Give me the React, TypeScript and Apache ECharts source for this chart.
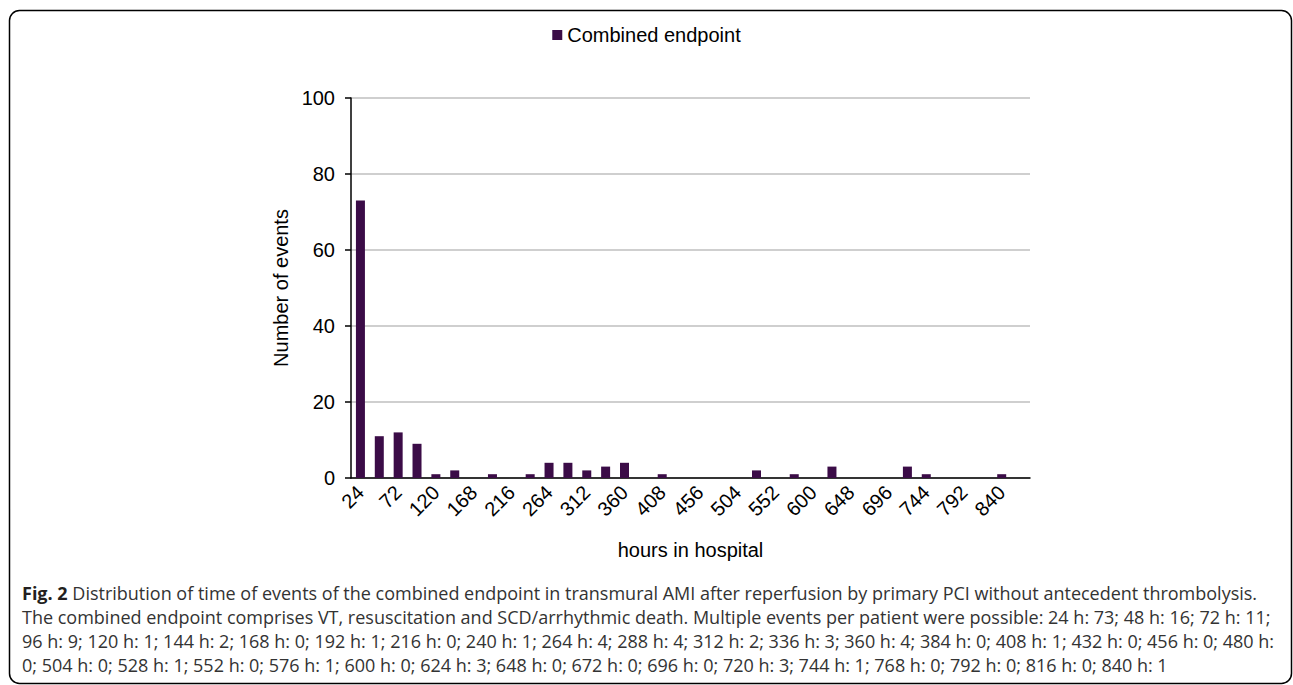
import React, { useEffect, useRef } from "react";
import * as echarts from "echarts";

const categories: string[] = [
  "24", "48", "72", "96", "120", "144", "168", "192", "216", "240", "264", "288",
  "312", "336", "360", "384", "408", "432", "456", "480", "504", "528", "552", "576",
  "600", "624", "648", "672", "696", "720", "744", "768", "792", "816", "840", "864",
];
const combinedEndpoint: number[] = [
  73, 11, 12, 9, 1, 2, 0, 1, 0, 1, 4, 4,
  2, 3, 4, 0, 1, 0, 0, 0, 0, 2, 0, 1,
  0, 3, 0, 0, 0, 3, 1, 0, 0, 0, 1, 0,
];
const seriesName = "Combined endpoint";
const xAxisTitle = "hours in hospital";
const yAxisTitle = "Number of events";
const captionLines: string[] = [
  "Distribution of time of events of the combined endpoint in transmural AMI after reperfusion by primary PCI without antecedent thrombolysis.",
  "The combined endpoint comprises VT, resuscitation and SCD/arrhythmic death. Multiple events per patient were possible: 24 h: 73; 48 h: 16; 72 h: 11;",
  "96 h: 9; 120 h: 1; 144 h: 2; 168 h: 0; 192 h: 1; 216 h: 0; 240 h: 1; 264 h: 4; 288 h: 4; 312 h: 2; 336 h: 3; 360 h: 4; 384 h: 0; 408 h: 1; 432 h: 0; 456 h: 0; 480 h:",
  "0; 504 h: 0; 528 h: 1; 552 h: 0; 576 h: 1; 600 h: 0; 624 h: 3; 648 h: 0; 672 h: 0; 696 h: 0; 720 h: 3; 744 h: 1; 768 h: 0; 792 h: 0; 816 h: 0; 840 h: 1",
];
const captionLabel = "Fig. 2";

const BAR_COLOR = "#3b0c47";
const SANS = "'Liberation Sans', Arial, Helvetica, sans-serif";
const CAPTION_FONT = "'Open Sans', 'Noto Sans', sans-serif";
const CAPTION_SIZE = 18;

export default function App() {
  const ref = useRef<HTMLDivElement>(null);
  useEffect(() => {
    if (!ref.current) return;
    const chart = echarts.init(ref.current, null, { renderer: "svg" });
    const capStyle = {
      fontFamily: CAPTION_FONT,
      fontSize: CAPTION_SIZE,
      fill: "#333333",
    };
    chart.setOption({
      animation: false,
      backgroundColor: "#ffffff",
      legend: {
        data: [seriesName],
        top: 20,
        left: "center",
        icon: "rect",
        itemWidth: 10,
        itemHeight: 10,
        itemGap: 5,
        textStyle: { fontFamily: SANS, fontSize: 20, color: "#000" },
      },
      grid: { left: 351, right: 263, top: 98, bottom: 207 },
      xAxis: {
        type: "category",
        data: categories,
        name: xAxisTitle,
        nameLocation: "middle",
        nameGap: 62,
        nameTextStyle: { fontFamily: SANS, fontSize: 20, color: "#000" },
        axisLine: { lineStyle: { color: "#000", width: 1.5 } },
        axisTick: { interval: 0, length: 5, lineStyle: { color: "#000", width: 1.5 } },
        axisLabel: {
          interval: 1,
          rotate: 45,
          margin: 11,
          fontFamily: SANS,
          fontSize: 20,
          color: "#000",
        },
      },
      yAxis: {
        type: "value",
        min: 0,
        max: 100,
        interval: 20,
        name: yAxisTitle,
        nameLocation: "middle",
        nameGap: 58,
        nameTextStyle: { fontFamily: SANS, fontSize: 20, color: "#000" },
        axisLine: { show: true, lineStyle: { color: "#000", width: 1.5 } },
        axisTick: { show: true, length: 6, lineStyle: { color: "#000", width: 1.5 } },
        axisLabel: { margin: 16, fontFamily: SANS, fontSize: 20, color: "#000" },
        splitLine: { lineStyle: { color: "#bfbfbf", width: 1.5 } },
      },
      series: [
        {
          name: seriesName,
          type: "bar",
          data: combinedEndpoint,
          barWidth: 9,
          itemStyle: { color: BAR_COLOR },
        },
      ],
      graphic: [
        {
          type: "rect",
          shape: { x: 9.5, y: 10.5, width: 1282, height: 673, r: 10 },
          style: { fill: "none", stroke: "#000", lineWidth: 1.5 },
          silent: true,
        },
        {
          type: "text",
          x: 22,
          y: 593,
          style: {
            ...capStyle,
            verticalAlign: "middle",
            text: "{b|" + captionLabel + "} " + captionLines[0],
            rich: {
              b: { fontFamily: CAPTION_FONT, fontSize: CAPTION_SIZE, fontWeight: "bold", fill: "#231f20" },
            },
          },
        },
        ...captionLines.slice(1).map((line, i) => ({
          type: "text",
          x: 22,
          y: 617 + i * 24,
          style: { ...capStyle, verticalAlign: "middle", text: line },
        })),
      ],
    });
    return () => chart.dispose();
  }, []);
  return (
    <div
      ref={ref}
      style={{ position: "absolute", left: 0, top: 0, width: 1293, height: 685 }}
    />
  );
}
